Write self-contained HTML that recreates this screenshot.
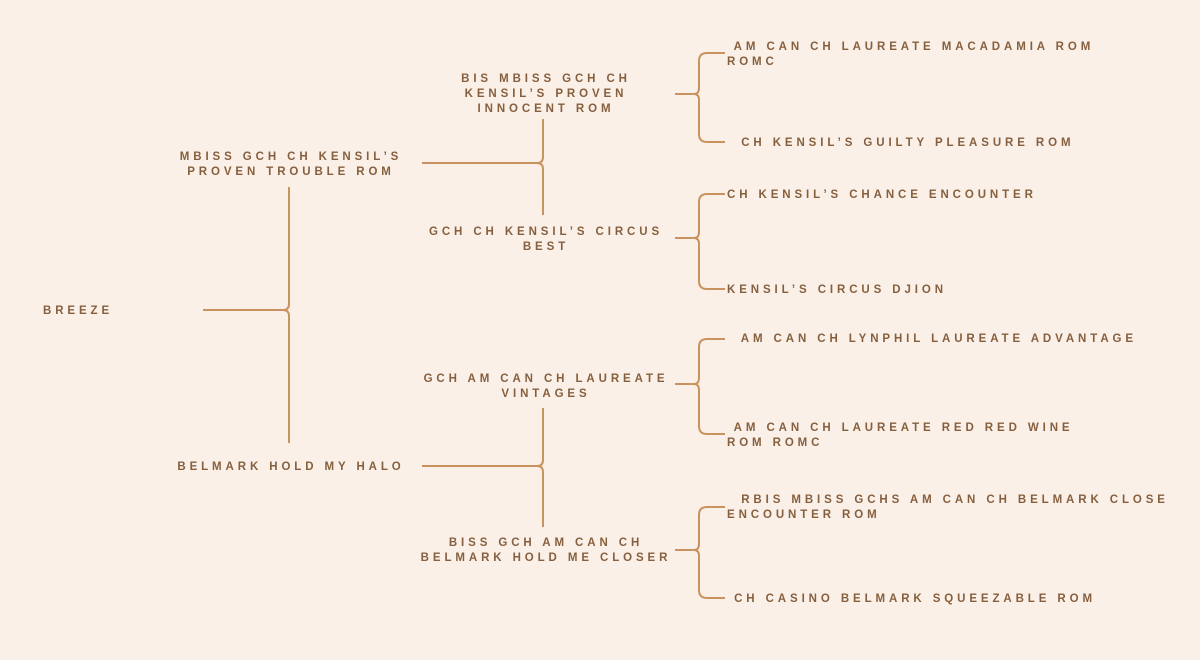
<!DOCTYPE html>
<html><head><meta charset="utf-8"><style>
html,body{margin:0;padding:0;}
body{width:1200px;height:660px;background:#fbf0e8;position:relative;overflow:hidden;}
.t{position:absolute;font-family:"Liberation Sans",sans-serif;font-weight:bold;font-size:11.5px;letter-spacing:3.9px;color:#86603e;line-height:15px;white-space:pre;}
.c{text-align:center;transform:translateX(-50%);}
svg{position:absolute;left:0;top:0;}
</style></head><body>
<svg width="1200" height="660" fill="none" stroke="#c9935f" stroke-width="2">
<path d="M203 310 H283 Q289 310 289 304 V187 M283 310 Q289 310 289 316 V443"/>
<path d="M422 163 H537 Q543 163 543 157 V119 M537 163 Q543 163 543 169 V215"/>
<path d="M422 466 H537 Q543 466 543 460 V408 M537 466 Q543 466 543 472 V527"/>
<path d="M675 94 H694 Q699 94 699 88 V61 Q699 53 707 53 H725 M694 94 Q699 94 699 100 V134 Q699 142 707 142 H725"/>
<path d="M675 238 H694 Q699 238 699 232 V202 Q699 194 707 194 H725 M694 238 Q699 238 699 244 V281 Q699 289 707 289 H725"/>
<path d="M675 384 H694 Q699 384 699 378 V347 Q699 339 707 339 H725 M694 384 Q699 384 699 390 V426 Q699 434 707 434 H725"/>
<path d="M675 550 H694 Q699 550 699 544 V515 Q699 507 707 507 H725 M694 550 Q699 550 699 556 V590 Q699 598 707 598 H725"/>
</svg>

<div class="t" style="left:43px;top:304px;">BREEZE</div>

<div class="t c" style="left:291px;top:150px;">MBISS GCH CH KENSIL’S
PROVEN TROUBLE ROM</div>
<div class="t c" style="left:291px;top:460px;">BELMARK HOLD MY HALO</div>

<div class="t c" style="left:546px;top:72px;">BIS MBISS GCH CH
KENSIL’S PROVEN
INNOCENT ROM</div>
<div class="t c" style="left:546px;top:225px;">GCH CH KENSIL’S CIRCUS
BEST</div>
<div class="t c" style="left:546px;top:372px;">GCH AM CAN CH LAUREATE
VINTAGES</div>
<div class="t c" style="left:546px;top:536px;">BISS GCH AM CAN CH
BELMARK HOLD ME CLOSER</div>

<div class="t" style="left:727px;top:40px;line-height:14.5px;"> AM CAN CH LAUREATE MACADAMIA ROM
ROMC</div>
<div class="t" style="left:727px;top:136px;">  CH KENSIL’S GUILTY PLEASURE ROM</div>
<div class="t" style="left:727px;top:188px;">CH KENSIL’S CHANCE ENCOUNTER</div>
<div class="t" style="left:727px;top:283px;">KENSIL’S CIRCUS DJION</div>
<div class="t" style="left:727px;top:332px;">  AM CAN CH LYNPHIL LAUREATE ADVANTAGE</div>
<div class="t" style="left:727px;top:421px;line-height:14.5px;"> AM CAN CH LAUREATE RED RED WINE
ROM ROMC</div>
<div class="t" style="left:727px;top:493px;line-height:14.5px;">  RBIS MBISS GCHS AM CAN CH BELMARK CLOSE
ENCOUNTER ROM</div>
<div class="t" style="left:727px;top:592px;"> CH CASINO BELMARK SQUEEZABLE ROM</div>
</body></html>
